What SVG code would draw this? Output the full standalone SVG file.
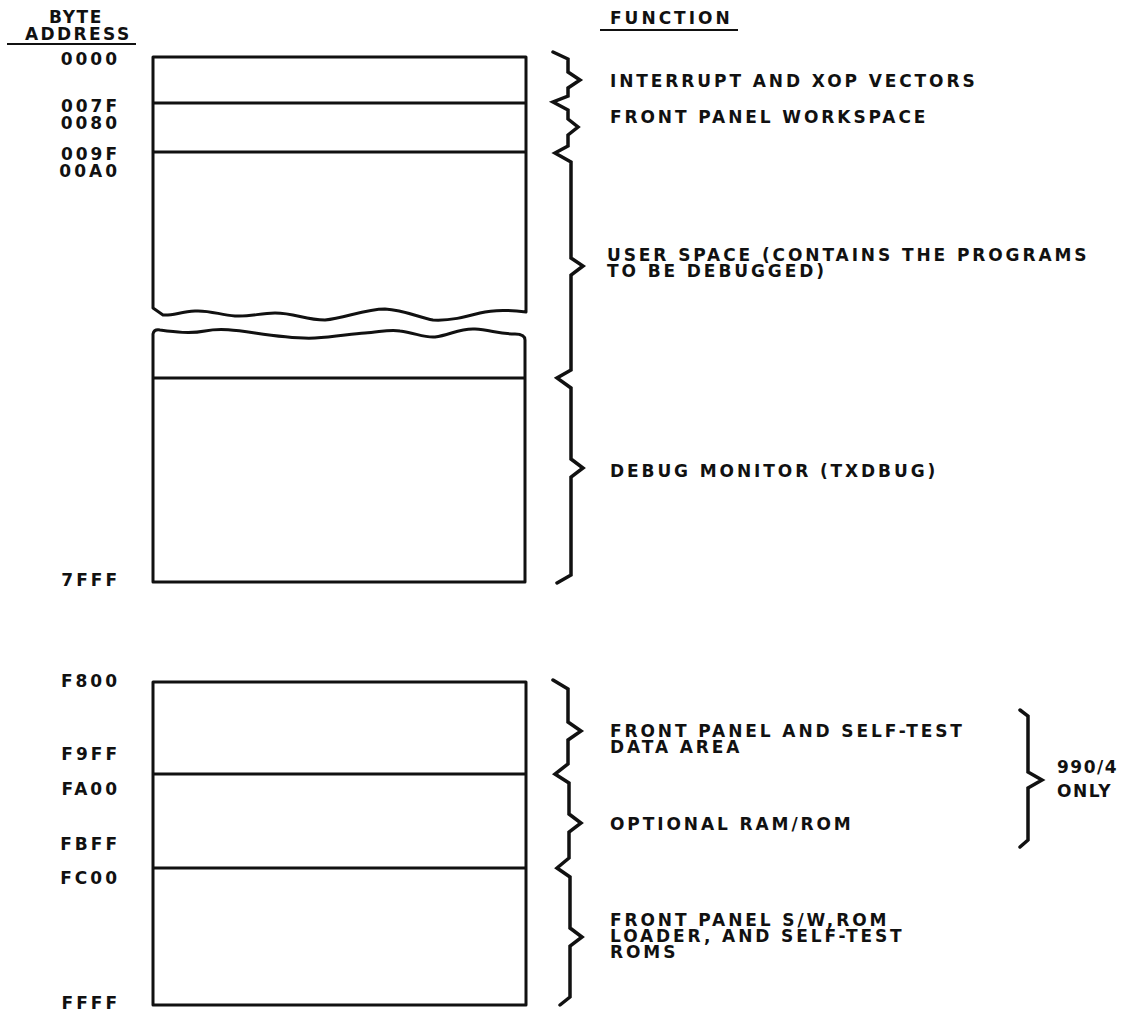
<svg xmlns="http://www.w3.org/2000/svg" width="1134" height="1015" viewBox="0 0 1134 1015">
<style>
text{font-family:"DejaVu Sans","Liberation Sans",sans-serif;font-weight:bold;fill:#111}
.hdr{font-size:17px;letter-spacing:2.4px}
.addr{font-size:17px;letter-spacing:3px;text-anchor:end}
.lbl{font-size:17px;letter-spacing:2.9px}
.box{fill:none;stroke:#111;stroke-width:3;stroke-linejoin:round}
.div{stroke:#111;stroke-width:3}
.brace{fill:none;stroke:#111;stroke-width:3.5;stroke-linejoin:miter;stroke-linecap:round}
.ul{stroke:#111;stroke-width:2}
</style>
<rect width="1134" height="1015" fill="#fff"/>
<g id="header">
<text class="hdr" x="49" y="23" style="letter-spacing:1.6px">BYTE</text>
<text class="hdr" x="25" y="40">ADDRESS</text>
<line class="ul" x1="7" y1="44" x2="136" y2="44"/>
<text class="hdr" x="610" y="24" style="letter-spacing:3px">FUNCTION</text>
<line class="ul" x1="600" y1="30" x2="738" y2="30"/>
</g>
<g id="addresses">
<text class="addr" x="120" y="65">0000</text>
<text class="addr" x="120" y="112">007F</text>
<text class="addr" x="120" y="129">0080</text>
<text class="addr" x="120" y="160">009F</text>
<text class="addr" x="120" y="177">00A0</text>
<text class="addr" x="120" y="586">7FFF</text>
<text class="addr" x="120" y="687">F800</text>
<text class="addr" x="120" y="760">F9FF</text>
<text class="addr" x="120" y="795">FA00</text>
<text class="addr" x="120" y="850">FBFF</text>
<text class="addr" x="120" y="884">FC00</text>
<text class="addr" x="120" y="1009">FFFF</text>
</g>
<g id="seg-vectors">
<path class="box" d="M153,103 L153,57 L526,57 L526,103"/>
<text class="lbl" x="610" y="87">INTERRUPT AND XOP VECTORS</text>
</g>
<g id="seg-fp-workspace">
<line class="div" x1="153" y1="103" x2="526" y2="103"/>
<path class="box" d="M153,103 L153,152 M526,103 L526,152"/>
<text class="lbl" x="610" y="123">FRONT PANEL WORKSPACE</text>
</g>
<g id="seg-user">
<line class="div" x1="153" y1="152" x2="526" y2="152"/>
<path class="box" d="M153,152 L153,308 L163,315 C172,316 180,312 195,311 C210,310 220,315 235,316 C250,317 260,313 275,313 C295,313 305,320 325,320 C345,318 365,309 385,309 C405,310 420,318 433,320 C450,321 465,317 480,313 C495,309 510,310 526,312 L526,152"/>
<path class="box" d="M153,378 L153,334 Q154,329 160,330 C175,332 190,334 205,331 C220,328 235,330 255,333 C275,336 295,339 315,338 C335,337 350,334 365,333 C380,332 390,329 400,331 C415,333 425,338 435,337 C450,335 460,328 475,329 C490,330 500,334 515,334 C521,334 525,336 525,340 L525,378"/>
<text class="lbl" x="607" y="261">USER SPACE (CONTAINS THE PROGRAMS</text>
<text class="lbl" x="607" y="277">TO BE DEBUGGED)</text>
</g>
<g id="seg-debug">
<line class="div" x1="153" y1="378" x2="525" y2="378"/>
<path class="box" d="M153,378 L153,582 L525,582 L525,378"/>
<text class="lbl" x="610" y="477">DEBUG MONITOR (TXDBUG)</text>
</g>
<g id="seg-fp-data">
<path class="box" d="M153,774 L153,682 L526,682 L526,774"/>
<text class="lbl" x="610" y="737">FRONT PANEL AND SELF-TEST</text>
<text class="lbl" x="610" y="753">DATA AREA</text>
</g>
<g id="seg-optional">
<line class="div" x1="153" y1="774" x2="526" y2="774"/>
<path class="box" d="M153,774 L153,868 M526,774 L526,868"/>
<text class="lbl" x="610" y="830">OPTIONAL RAM/ROM</text>
</g>
<g id="seg-roms">
<line class="div" x1="153" y1="868" x2="526" y2="868"/>
<path class="box" d="M153,868 L153,1005 L526,1005 L526,868"/>
<text class="lbl" x="610" y="926">FRONT PANEL S/W,ROM</text>
<text class="lbl" x="610" y="942">LOADER, AND SELF-TEST</text>
<text class="lbl" x="610" y="958">ROMS</text>
</g>
<g id="note-990">
<text class="lbl" x="1057" y="773" style="letter-spacing:1.5px">990/4</text>
<text class="lbl" x="1057" y="797" style="letter-spacing:1.5px">ONLY</text>
</g>
<g id="connectors">
<path class="brace" d="M553,52 L568,59 L568,72 L580,80 L568,88 L568,96 L553,102 L568,110 L568,119 L578,127 L568,135 L568,146 L555,153 L571,162 L571,258 L583,266 L571,275 L571,370 L557,378 L571,388 L571,459 L583,468 L571,477 L571,575 L557,583"/>
<path class="brace" d="M553,680 L568,689 L568,722 L581,731 L568,740 L568,764 L555,774 L569,783 L569,814 L581,823 L569,832 L569,858 L557,868 L570,877 L570,928 L582,937 L570,946 L570,997 L560,1005"/>
<path class="brace" d="M1020,710 L1028,716 L1028,772 L1042,780 L1028,788 L1028,840 L1020,847"/>
</g>
</svg>
